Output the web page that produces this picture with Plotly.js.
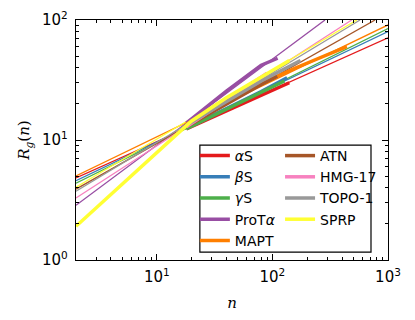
<!DOCTYPE html>
<html>
<head>
<meta charset="utf-8">
<script src="https://cdn.plot.ly/plotly-3.0.1.min.js"></script>
<style>
  html, body { margin: 0; padding: 0; background: #fff; }
  #chart { width: 415px; height: 320px; }
</style>
</head>
<body>
<div id="chart"></div>
<script>
// Protein names, as in the legend (column 1 then column 2)
const NAMES = ['<i>α</i>S', '<i>β</i>S', '<i>γ</i>S', 'ProT<i>α</i>', 'MAPT',
               'ATN', 'HMG-17', 'TOPO-1', 'SPRP'];
const COLORS = ['#e41a1c', '#377eb8', '#4daf4a', '#984ea3', '#ff7f00',
                '#a65628', '#f781bf', '#999999', '#ffff33'];

// Thin fitted lines, read at the two ends where they leave the frame
const FIT_N0 = [2, 2, 2, 2, 2, 2, 2, 2, 2];
const FIT_R0 = [4.82, 4.58, 4.36, 2.86, 5.01, 3.9, 3.29, 3.74, 4.04];
const FIT_N1 = [1000, 1000, 1000, 285, 1000, 773, 485, 573, 537];
const FIT_R1 = [71, 80, 85, 100, 91, 100, 100, 100, 100];

// Thick measured curves Rg(n)
const DATA_N = [
  [18, 40, 80, 140],
  [18, 40, 80, 134],
  [18, 40, 80, 127],
  [18, 40, 80, 111],
  [18, 40, 80, 160, 300, 441],
  [18, 40, 80, 110],
  [18, 40, 90],
  [18, 40, 80, 175],
  [2, 5, 10, 20, 40, 80, 140]
];
const DATA_R = [
  [12.4, 17.5, 23.5, 30],
  [12.5, 18.3, 25.3, 33],
  [12.4, 18.2, 25.0, 31],
  [13.8, 25.5, 42, 48],
  [13.5, 20.5, 29.5, 40, 51, 60],
  [12.9, 20, 29, 34],
  [12.9, 21.5, 36],
  [13.3, 21, 31, 46],
  [1.91, 4.28, 7.9, 14.4, 22.5, 33.5, 46]
];

// Major / minor tick values on the log axes
const X_TICKS = [10, 100, 1000];
const X_LABELS = ['10<sup>1</sup>', '10<sup>2</sup>', '10<sup>3</sup>'];
const Y_TICKS = [1, 10, 100];
const Y_LABELS = ['10<sup>0</sup>', '10<sup>1</sup>', '10<sup>2</sup>'];
const MINOR = [2, 3, 4, 5, 6, 7, 8, 9, 20, 30, 40, 50, 60, 70, 80, 90,
               200, 300, 400, 500, 600, 700, 800, 900];

const FONT = 'DejaVu Sans, sans-serif';
const MATH = 'DejaVu Serif, serif';

let traces = [];
for (let i = 0; i < NAMES.length; i++) {
  traces.push({
    x: [FIT_N0[i], FIT_N1[i]],
    y: [FIT_R0[i], FIT_R1[i]],
    mode: 'lines',
    line: {color: COLORS[i], width: 1.3},
    showlegend: false,
    hoverinfo: 'skip'
  });
}
for (let i = 0; i < NAMES.length; i++) {
  traces.push({
    x: DATA_N[i],
    y: DATA_R[i],
    name: NAMES[i],
    mode: 'lines',
    line: {color: COLORS[i], width: 3.5},
    legend: i < 5 ? 'legend' : 'legend2'
  });
}

const axisCommon = {
  type: 'log',
  showgrid: false,
  zeroline: false,
  showline: true,
  linecolor: '#000',
  linewidth: 1.2,
  mirror: 'allticks',
  ticks: 'inside',
  ticklen: 6,
  tickwidth: 1,
  tickcolor: '#000',
  tickmode: 'array',
  tickfont: {family: FONT, size: 15, color: '#000'},
  minor: {tickmode: 'array', tickvals: MINOR, ticks: 'inside', ticklen: 3,
          tickcolor: '#000', showgrid: false}
};

const legendCommon = {
  bgcolor: 'rgba(0,0,0,0)',
  borderwidth: 0,
  font: {family: FONT, size: 14, color: '#000'},
  xanchor: 'left',
  yanchor: 'top',
  tracegroupgap: 0
};

const layout = {
  width: 415,
  height: 320,
  margin: {l: 76, r: 27, t: 20, b: 60},
  paper_bgcolor: '#fff',
  plot_bgcolor: '#fff',
  xaxis: Object.assign({}, axisCommon, {
    range: [Math.log10(2), 3],
    tickvals: X_TICKS,
    ticktext: X_LABELS,
    ticklabelstandoff: 3,
    title: {text: '<i>n</i>', font: {family: MATH, size: 15, color: '#000'}, standoff: 12}
  }),
  yaxis: Object.assign({}, axisCommon, {
    range: [0, 2],
    tickvals: Y_TICKS,
    ticktext: Y_LABELS,
    ticklabelstandoff: 4,
    title: {text: '<i>R</i><sub><i>g</i></sub>(<i>n</i>)',
            font: {family: MATH, size: 15, color: '#000'}, standoff: 8}
  }),
  legend: Object.assign({}, legendCommon, {x: 0.381, y: 0.5}),
  legend2: Object.assign({}, legendCommon, {x: 0.654, y: 0.5}),
  shapes: [{
    type: 'rect', xref: 'paper', yref: 'paper',
    x0: 0.397, x1: 0.9455, y0: 0.033, y1: 0.479,
    line: {color: '#000', width: 1.2}, fillcolor: 'rgba(0,0,0,0)'
  }]
};

Plotly.newPlot('chart', traces, layout, {displayModeBar: false, staticPlot: true});
</script>
</body>
</html>
